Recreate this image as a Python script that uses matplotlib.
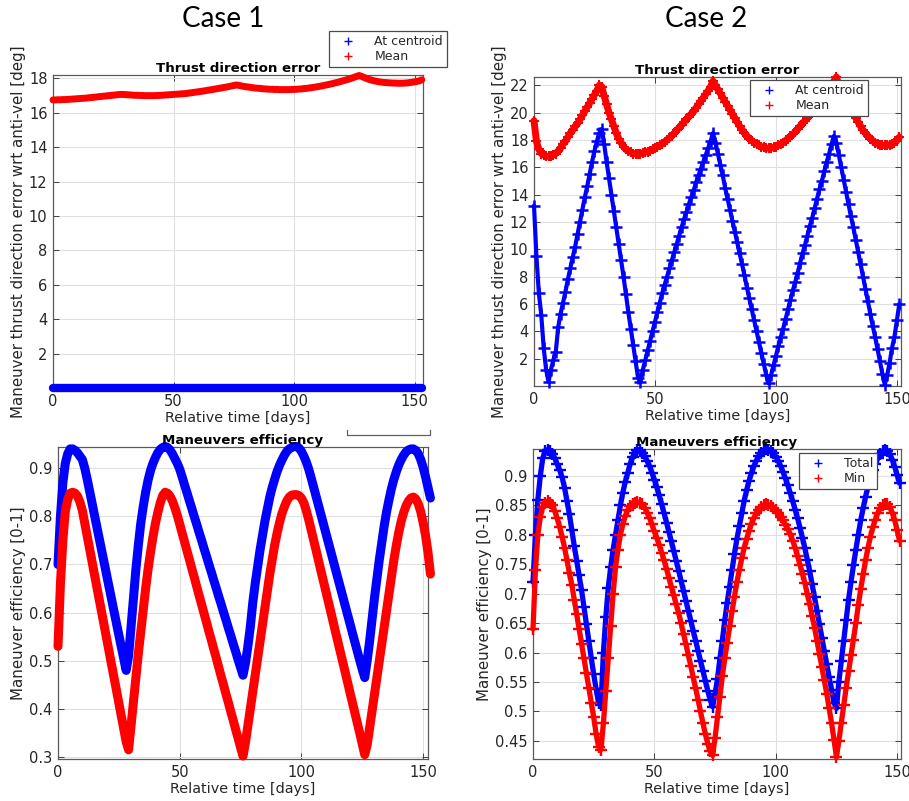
import numpy as np
import matplotlib
matplotlib.use("Agg")
import matplotlib.pyplot as plt
from matplotlib.lines import Line2D

# ---------------- data (daily samples) ----------------
# Case 1, thrust direction error [deg]
mean_err_1 = [
    16.75, 16.75, 16.76, 16.76, 16.77, 16.77, 16.78, 16.79, 16.80, 16.81, 16.82,
    16.83, 16.84, 16.85, 16.86, 16.88, 16.89, 16.91, 16.92, 16.94, 16.95,
    16.97, 16.98, 17.00, 17.01, 17.03, 17.04, 17.06, 17.07, 17.07, 17.06,
    17.05, 17.04, 17.03, 17.02, 17.02, 17.01, 17.01, 17.00, 17.00, 17.00,
    17.00, 17.00, 17.01, 17.01, 17.02, 17.03, 17.04, 17.05, 17.06, 17.07,
    17.08, 17.09, 17.10, 17.11, 17.12, 17.14, 17.16, 17.18, 17.20, 17.22,
    17.24, 17.26, 17.28, 17.31, 17.33, 17.35, 17.38, 17.40, 17.43, 17.45,
    17.48, 17.50, 17.53, 17.56, 17.59, 17.62, 17.60, 17.57, 17.54, 17.52,
    17.50, 17.48, 17.46, 17.44, 17.43, 17.42, 17.40, 17.39, 17.38, 17.37,
    17.37, 17.36, 17.36, 17.35, 17.35, 17.35, 17.35, 17.35, 17.36, 17.36,
    17.37, 17.38, 17.39, 17.41, 17.42, 17.44, 17.46, 17.48, 17.50, 17.53,
    17.55, 17.58, 17.61, 17.64, 17.67, 17.70, 17.74, 17.77, 17.81, 17.85,
    17.89, 17.93, 17.97, 18.02, 18.07, 18.12, 18.17, 18.12, 18.06, 18.00,
    17.95, 17.91, 17.87, 17.84, 17.81, 17.79, 17.77, 17.76, 17.75, 17.74,
    17.73, 17.73, 17.72, 17.72, 17.72, 17.73, 17.74, 17.76, 17.78, 17.80,
    17.83, 17.86, 17.92]
centroid_err_1 = [0.0] * len(mean_err_1)   # constant zero in the picture

# Case 1, maneuvers efficiency [0-1]
total_eff_1 = [
    0.70, 0.80, 0.87, 0.91, 0.93, 0.94, 0.94, 0.937, 0.932, 0.925, 0.918,
    0.90, 0.877, 0.852, 0.827, 0.802, 0.777, 0.752, 0.727, 0.703, 0.678,
    0.653, 0.628, 0.603, 0.578, 0.554, 0.529, 0.504, 0.48, 0.51, 0.57,
    0.63, 0.69, 0.74, 0.785, 0.82, 0.85, 0.875, 0.895, 0.91, 0.922,
    0.932, 0.939, 0.943, 0.945, 0.943, 0.938, 0.93, 0.92, 0.91, 0.898,
    0.882, 0.865, 0.849, 0.832, 0.816, 0.799, 0.783, 0.766, 0.75, 0.733,
    0.717, 0.70, 0.684, 0.667, 0.651, 0.634, 0.618, 0.601, 0.585, 0.568,
    0.552, 0.535, 0.519, 0.502, 0.486, 0.47, 0.495, 0.53, 0.57, 0.62,
    0.66, 0.695, 0.73, 0.76, 0.79, 0.815, 0.84, 0.86, 0.877, 0.893,
    0.906, 0.917, 0.927, 0.935, 0.94, 0.943, 0.945, 0.945, 0.942, 0.935,
    0.925, 0.913, 0.898, 0.88, 0.861, 0.842, 0.823, 0.804, 0.785, 0.766,
    0.747, 0.728, 0.709, 0.69, 0.671, 0.652, 0.633, 0.614, 0.595, 0.576,
    0.557, 0.538, 0.519, 0.50, 0.482, 0.465, 0.50, 0.54, 0.585, 0.63,
    0.67, 0.71, 0.745, 0.78, 0.81, 0.835, 0.858, 0.877, 0.893, 0.907,
    0.918, 0.927, 0.934, 0.938, 0.94, 0.94, 0.937, 0.93, 0.918, 0.902,
    0.882, 0.86, 0.838]
min_eff_1 = [
    0.53, 0.66, 0.75, 0.81, 0.835, 0.848, 0.85, 0.848, 0.842, 0.83, 0.812,
    0.786, 0.759, 0.732, 0.706, 0.679, 0.652, 0.626, 0.599, 0.572, 0.546,
    0.519, 0.492, 0.466, 0.439, 0.412, 0.386, 0.359, 0.332, 0.315, 0.365,
    0.415, 0.465, 0.515, 0.56, 0.605, 0.65, 0.69, 0.725, 0.757, 0.785,
    0.808, 0.828, 0.843, 0.85, 0.848, 0.842, 0.832, 0.818, 0.802, 0.784,
    0.765, 0.747, 0.728, 0.71, 0.691, 0.673, 0.654, 0.635, 0.617, 0.598,
    0.58, 0.561, 0.543, 0.524, 0.506, 0.487, 0.468, 0.45, 0.431, 0.413,
    0.394, 0.376, 0.357, 0.339, 0.32, 0.302, 0.33, 0.365, 0.40, 0.435,
    0.47, 0.505, 0.54, 0.575, 0.61, 0.645, 0.68, 0.71, 0.74, 0.765,
    0.787, 0.806, 0.82, 0.832, 0.84, 0.844, 0.845, 0.845, 0.843, 0.838,
    0.828, 0.812, 0.793, 0.772, 0.751, 0.73, 0.708, 0.687, 0.666, 0.645,
    0.624, 0.603, 0.581, 0.56, 0.539, 0.518, 0.497, 0.476, 0.454, 0.433,
    0.412, 0.391, 0.37, 0.349, 0.327, 0.305, 0.325, 0.36, 0.395, 0.43,
    0.465, 0.50, 0.535, 0.57, 0.605, 0.64, 0.675, 0.71, 0.74, 0.767,
    0.79, 0.808, 0.822, 0.832, 0.838, 0.84, 0.836, 0.826, 0.81, 0.787,
    0.76, 0.725, 0.68]

# Case 2, thrust direction error [deg]
centroid_err_2 = [
    13.2, 9.5, 6.8, 5.2, 2.8, 1.2, 0.3, 1.2, 1.9, 2.5, 4.3,
    5.3, 6.1, 6.9, 7.8, 8.6, 9.4, 10.2, 11.1, 12.0, 12.9,
    13.8, 14.6, 15.5, 16.4, 17.2, 17.9, 18.5, 18.8, 17.7, 16.4,
    15.2, 14.0, 12.8, 11.6, 10.4, 9.2, 8.0, 6.7, 5.4, 4.2,
    3.0, 1.8, 0.6, 0.3, 1.2, 1.9, 2.6, 3.3, 4.0, 4.7,
    5.4, 6.1, 6.8, 7.4, 8.0, 8.6, 9.2, 9.8, 10.4, 11.0,
    11.6, 12.2, 12.7, 13.3, 13.8, 14.3, 14.9, 15.4, 15.9, 16.4,
    16.9, 17.4, 17.9, 18.5, 17.8, 17.0, 16.2, 15.4, 14.5, 13.7,
    12.9, 12.1, 11.3, 10.5, 9.7, 8.9, 8.1, 7.2, 6.4, 5.6,
    4.8, 4.0, 3.2, 2.4, 1.6, 0.8, 0.2, 0.8, 1.5, 2.2,
    2.9, 3.6, 4.2, 4.9, 5.6, 6.3, 7.0, 7.6, 8.3, 9.0,
    9.7, 10.3, 11.0, 11.7, 12.3, 13.0, 13.7, 14.4, 15.0, 15.7,
    16.4, 17.0, 17.7, 18.3, 17.8, 16.9, 16.0, 15.1, 14.2, 13.3,
    12.4, 11.6, 10.7, 9.8, 8.9, 8.0, 7.1, 6.2, 5.3, 4.4,
    3.6, 2.7, 1.8, 0.9, 0.1, 0.8, 1.7, 2.8, 3.6, 4.8,
    6.0]
mean_err_2 = [
    19.4, 17.9, 17.3, 17.0, 16.9, 16.8, 16.8, 16.8, 16.9, 17.0, 17.2,
    17.4, 17.7, 17.9, 18.2, 18.5, 18.7, 19.0, 19.2, 19.5, 19.8,
    20.1, 20.4, 20.7, 21.0, 21.3, 21.6, 22.0, 21.9, 21.2, 20.6,
    20.0, 19.5, 19.0, 18.5, 18.1, 17.8, 17.5, 17.3, 17.2, 17.1,
    17.0, 17.0, 17.0, 17.0, 17.05, 17.1, 17.15, 17.2, 17.3, 17.4,
    17.5, 17.6, 17.7, 17.85, 18.0, 18.15, 18.3, 18.5, 18.7, 18.9,
    19.1, 19.3, 19.5, 19.7, 19.9, 20.1, 20.35, 20.6, 20.85, 21.1,
    21.35, 21.6, 21.9, 22.3, 22.0, 21.7, 21.4, 21.1, 20.8, 20.5,
    20.2, 19.9, 19.6, 19.3, 19.0, 18.75, 18.5, 18.3, 18.1, 17.95,
    17.8, 17.7, 17.6, 17.5, 17.45, 17.4, 17.4, 17.4, 17.45, 17.5,
    17.6, 17.7, 17.8, 17.95, 18.1, 18.25, 18.4, 18.6, 18.8, 19.0,
    19.2, 19.4, 19.6, 19.8, 20.0, 20.2, 20.4, 20.65, 20.9, 21.15,
    21.4, 21.7, 22.0, 22.3, 22.6, 22.0, 21.6, 21.2, 20.8, 20.5,
    20.2, 19.9, 19.6, 19.3, 19.0, 18.7, 18.5, 18.3, 18.1, 17.95,
    17.8, 17.7, 17.65, 17.6, 17.6, 17.6, 17.65, 17.7, 17.8, 17.95,
    18.2]

# Case 2, maneuvers efficiency [0-1]
total_eff_2 = [
    0.72, 0.80, 0.86, 0.90, 0.93, 0.943, 0.945, 0.943, 0.937, 0.93, 0.92,
    0.91, 0.898, 0.88, 0.858, 0.835, 0.808, 0.781, 0.756, 0.732, 0.706,
    0.677, 0.648, 0.62, 0.591, 0.563, 0.538, 0.515, 0.51, 0.60, 0.66,
    0.71, 0.745, 0.775, 0.80, 0.825, 0.85, 0.872, 0.89, 0.905, 0.92,
    0.932, 0.94, 0.945, 0.944, 0.94, 0.934, 0.926, 0.917, 0.906, 0.894,
    0.881, 0.867, 0.852, 0.837, 0.821, 0.805, 0.789, 0.772, 0.756, 0.739,
    0.722, 0.705, 0.688, 0.671, 0.654, 0.637, 0.62, 0.603, 0.586, 0.569,
    0.552, 0.535, 0.52, 0.508, 0.53, 0.555, 0.59, 0.62, 0.655, 0.685,
    0.712, 0.74, 0.768, 0.793, 0.815, 0.838, 0.858, 0.876, 0.892, 0.905,
    0.917, 0.926, 0.934, 0.94, 0.944, 0.946, 0.945, 0.943, 0.939, 0.933,
    0.926, 0.917, 0.907, 0.896, 0.884, 0.871, 0.857, 0.843, 0.828, 0.812,
    0.795, 0.777, 0.758, 0.738, 0.716, 0.694, 0.671, 0.648, 0.625, 0.602,
    0.58, 0.558, 0.536, 0.515, 0.505, 0.55, 0.585, 0.62, 0.655, 0.69,
    0.72, 0.748, 0.775, 0.80, 0.825, 0.845, 0.865, 0.882, 0.897, 0.91,
    0.921, 0.93, 0.937, 0.942, 0.945, 0.943, 0.937, 0.928, 0.916, 0.902,
    0.888]
min_eff_2 = [
    0.64, 0.74, 0.80, 0.83, 0.848, 0.855, 0.857, 0.855, 0.85, 0.84, 0.828,
    0.813, 0.797, 0.778, 0.757, 0.735, 0.715, 0.69, 0.665, 0.64, 0.615,
    0.59, 0.565, 0.54, 0.515, 0.49, 0.462, 0.44, 0.435, 0.48, 0.535,
    0.59, 0.645, 0.70, 0.745, 0.775, 0.80, 0.818, 0.832, 0.842, 0.849,
    0.853, 0.855, 0.856, 0.855, 0.852, 0.846, 0.838, 0.829, 0.818, 0.806,
    0.795, 0.783, 0.77, 0.757, 0.742, 0.727, 0.712, 0.697, 0.682, 0.667,
    0.65, 0.632, 0.614, 0.596, 0.577, 0.558, 0.539, 0.52, 0.50, 0.48,
    0.462, 0.445, 0.432, 0.425, 0.455, 0.49, 0.525, 0.56, 0.59, 0.617,
    0.645, 0.67, 0.695, 0.72, 0.74, 0.76, 0.778, 0.793, 0.807, 0.819,
    0.829, 0.837, 0.843, 0.848, 0.851, 0.852, 0.851, 0.849, 0.846, 0.842,
    0.837, 0.831, 0.825, 0.817, 0.81, 0.801, 0.79, 0.778, 0.764, 0.749,
    0.734, 0.718, 0.70, 0.682, 0.662, 0.642, 0.62, 0.598, 0.576, 0.553,
    0.53, 0.505, 0.48, 0.452, 0.422, 0.45, 0.48, 0.51, 0.54, 0.568,
    0.595, 0.622, 0.65, 0.68, 0.708, 0.733, 0.757, 0.778, 0.797, 0.813,
    0.826, 0.837, 0.845, 0.85, 0.853, 0.852, 0.847, 0.838, 0.825, 0.808,
    0.79]

case_titles = ["Case 1", "Case 2"]
x_ticks = [0, 50, 100, 150]
err_ticks_1 = [2, 4, 6, 8, 10, 12, 14, 16, 18]
err_ticks_2 = [2, 4, 6, 8, 10, 12, 14, 16, 18, 20, 22]
eff_ticks_1 = [0.3, 0.4, 0.5, 0.6, 0.7, 0.8, 0.9]
eff_ticks_2 = [0.45, 0.5, 0.55, 0.6, 0.65, 0.7, 0.75, 0.8, 0.85, 0.9]

# ---------------- figure ----------------
W, H = 909, 801
fig = plt.figure(figsize=(W / 100, H / 100), dpi=100)
fig.patch.set_facecolor("white")

TXT = "#262626"
BLUE = (0, 0, 1)
RED = (1, 0, 0)


def add_axes_px(left, top, right, bottom):
    return fig.add_axes([left / W, 1 - bottom / H, (right - left) / W, (bottom - top) / H])


def style(ax, xlim, ylim, yticks, ylabel, title):
    ax.set_xlim(*xlim)
    ax.set_ylim(*ylim)
    ax.set_xticks(x_ticks)
    ax.set_yticks(yticks)
    ax.set_yticklabels([f"{v:g}" for v in yticks])
    ax.grid(True, color="#e0e0e0", lw=0.8)
    ax.set_axisbelow(True)
    ax.tick_params(direction="in", top=True, right=True, length=4, width=0.7,
                   colors="#404040", labelcolor=TXT, labelsize=10.5, pad=4)
    for s in ax.spines.values():
        s.set_color("#5a5a5a")
        s.set_linewidth(0.9)
    ax.set_xlabel("Relative time [days]", fontsize=10.4, color=TXT, labelpad=2)
    ax.set_ylabel(ylabel, fontsize=10.8, color=TXT, labelpad=2)
    ax.set_title(title, fontsize=9.6, fontweight="bold", color="black", pad=2)


def draw(ax, y, color, ms, lw, mew=1.1):
    x = np.arange(len(y))
    ax.plot(x, y, color=color, lw=lw, solid_capstyle="round", solid_joinstyle="round",
            clip_on=False, zorder=3)
    ax.plot(x, y, ls="none", marker="+", ms=ms, mew=mew, color=color,
            clip_on=False, zorder=3)


def legend_px(ax, labels, cx, cy):
    handles = [Line2D([], [], ls="none", marker="+", ms=6, mew=1.0, color=c)
               for c in (BLUE, RED)]
    lg = ax.legend(handles, labels, loc="center", bbox_to_anchor=(cx / W, 1 - cy / H),
                   bbox_transform=fig.transFigure, fontsize=9, frameon=True,
                   fancybox=False, framealpha=1, edgecolor="#4a4a4a",
                   handlelength=2.4, handletextpad=0.9, borderpad=0.3,
                   labelspacing=0.15, borderaxespad=0)
    lg.get_frame().set_linewidth(0.9)
    for t in lg.get_texts():
        t.set_color(TXT)
    lg.set_zorder(10)
    return lg


# Panel 1: Case 1 thrust error
ax1 = add_axes_px(53, 75, 423, 388)
draw(ax1, mean_err_1, RED, 4, 5.0)
draw(ax1, centroid_err_1, BLUE, 4, 6.0)
style(ax1, (0, 153.5), (0, 18.2), err_ticks_1,
      "Maneuver thrust direction error wrt anti-vel [deg]", "Thrust direction error")
legend_px(ax1, ["At centroid", "Mean"], 388, 49)

# Panel 2: Case 2 thrust error
ax2 = add_axes_px(534, 77, 901, 386)
draw(ax2, mean_err_2, RED, 7, 5.0, mew=1.5)
draw(ax2, centroid_err_2, BLUE, 8, 3.0, mew=1.8)
style(ax2, (0, 151.7), (0, 22.6), err_ticks_2,
      "Maneuver thrust direction error wrt anti-vel [deg]", "Thrust direction error")
legend_px(ax2, ["At centroid", "Mean"], 809, 98)

# Panel 3: Case 1 efficiency
ax3 = add_axes_px(58, 447, 428, 759)
draw(ax3, total_eff_1, BLUE, 5, 6.5)
draw(ax3, min_eff_1, RED, 5, 6.5)
style(ax3, (0, 152), (0.296, 0.944), eff_ticks_1,
      "Maneuver efficiency [0-1]", "Maneuvers efficiency")

# Panel 4: Case 2 efficiency
ax4 = add_axes_px(533, 449, 901, 759)
draw(ax4, total_eff_2, BLUE, 8, 3.8, mew=1.7)
draw(ax4, min_eff_2, RED, 8, 3.8, mew=1.7)
style(ax4, (0, 151.6), (0.419, 0.946), eff_ticks_2,
      "Maneuver efficiency [0-1]", "Maneuvers efficiency")
legend_px(ax4, ["Total", "Min"], 838, 471)

# remnant of a cropped legend frame above panel 3
fig.add_artist(Line2D(np.array([347, 347, 430, 430]) / W,
                      1 - np.array([430, 435, 435, 430]) / H,
                      color="#606060", lw=0.9))

# Case headings
for title, cx in zip(case_titles, (223, 706)):
    fig.text(cx / W, 1 - 19 / H, title, ha="center", va="center", fontsize=20,
             family=["Lato", "DejaVu Sans"], color="black")

fig.savefig("out.png", dpi=100, facecolor="white")
